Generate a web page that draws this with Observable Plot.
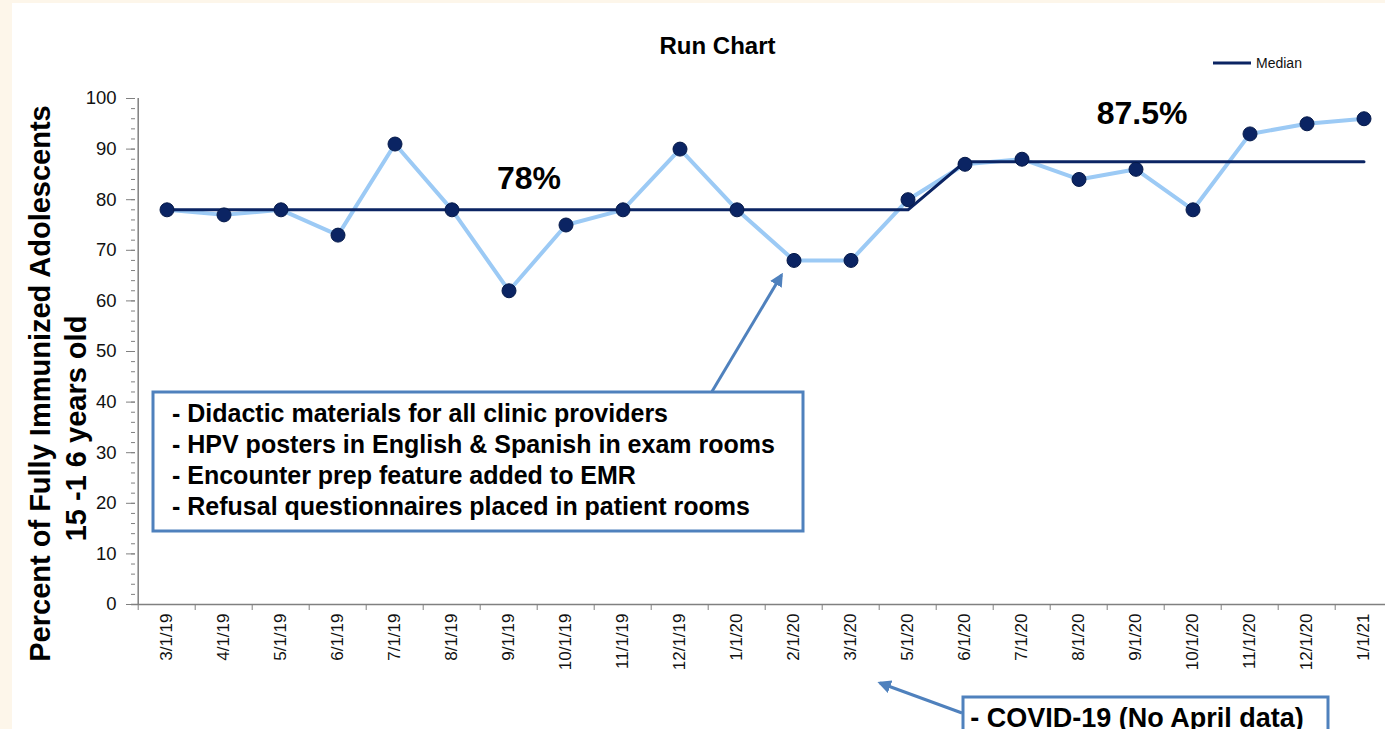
<!DOCTYPE html>
<html>
<head>
<meta charset="utf-8">
<script src="https://cdn.jsdelivr.net/npm/d3@7"></script>
<script src="https://cdn.jsdelivr.net/npm/@observablehq/plot@0.6"></script>
<style>
  html, body { margin: 0; padding: 0; background: #fdf6ea; overflow: hidden; }
  #chart { width: 1385px; height: 729px; }
</style>
</head>
<body>
<div id="chart"></div>
<script>
// ---- data ----
const months = ["3/1/19","4/1/19","5/1/19","6/1/19","7/1/19","8/1/19","9/1/19","10/1/19","11/1/19","12/1/19","1/1/20","2/1/20","3/1/20","5/1/20","6/1/20","7/1/20","8/1/20","9/1/20","10/1/20","11/1/20","12/1/20","1/1/21"];
const percentImmunized = [78,77,78,73,91,78,62,75,78,90,78,68,68,80,87,88,84,86,78,93,95,96];
const medianValues = [78,78,78,78,78,78,78,78,78,78,78,78,78,78,87.5,87.5,87.5,87.5,87.5,87.5,87.5,87.5];
const yMajorTicks = [0,10,20,30,40,50,60,70,80,90,100];
const yMinorTicks = [0,2,4,6,8,10,12,14,16,18,20,22,24,26,28,30,32,34,36,38,40,42,44,46,48,50,52,54,56,58,60,62,64,66,68,70,72,74,76,78,80,82,84,86,88,90,92,94,96,98,100];
const medianLabels = [
  {month: "9/1/19", median: 78, label: "78%", dx: 20, dy: -31},
  {month: "9/1/20", median: 87.5, label: "87.5%", dx: 6, dy: -48}
];
const chartTitle = "Run Chart";
const yTitleLines = ["Percent of Fully Immunized Adolescents", "15 -1 6 years old"];
const legendLabel = "Median";
const interventions = [
  "- Didactic materials for all clinic providers",
  "- HPV posters in English & Spanish in exam rooms",
  "- Encounter prep feature added to EMR",
  "- Refusal questionnaires placed in patient rooms"
];
const covidNote = "- COVID-19 (No April data)";

// ---- styles ----
const FONT = "'Liberation Sans', Arial, Helvetica, sans-serif";
const NAVY = "#0b2463";
const LIGHT = "#9ccaf5";
const BOXBLUE = "#4f81bd";
const AXIS = "#808080";
const X0 = 131.2, X1 = 1398.4;
const BW = (X1 - X0) / months.length;

const rows = months.map((m, i) => ({month: m, value: percentImmunized[i], median: medianValues[i]}));

const plot = Plot.plot({
  width: 1385,
  height: 729,
  marginTop: 98,
  marginBottom: 125,
  marginLeft: 131,
  marginRight: 0,
  style: {background: "transparent", fontFamily: FONT, color: "#111", overflow: "visible"},
  x: {type: "band", domain: months, range: [X0, X1], padding: 0, label: null},
  y: {domain: [0, 100], label: null},
  marks: [
    // axes
    Plot.ruleX([months[0]], {dx: -BW / 2, stroke: AXIS, strokeWidth: 1.5}),
    Plot.ruleY([0], {stroke: AXIS, strokeWidth: 1.5}),
    Plot.axisY(yMinorTicks, {tickSize: 4, dx: 4, fill: "none", stroke: AXIS}),
    Plot.axisY(yMajorTicks, {tickSize: 9, dx: 4, fill: "none", stroke: AXIS}),
    Plot.axisY(yMajorTicks, {tickSize: 0, tickPadding: 15, fontSize: 18.5, fill: "#111"}),
    Plot.axisX(months, {tickSize: 6, dx: -BW / 2, fill: "none", stroke: AXIS}),
    Plot.axisX(months, {tickSize: 0, tickPadding: 9, tickRotate: -90, fontSize: 17, fill: "#111"}),
    // series
    Plot.lineY(rows, {x: "month", y: "value", stroke: LIGHT, strokeWidth: 4}),
    Plot.lineY(rows, {x: "month", y: "median", stroke: NAVY, strokeWidth: 3}),
    Plot.dot(rows, {x: "month", y: "value", r: 7, fill: NAVY, stroke: "#061a4a", strokeWidth: 1}),
    // median labels
    ...medianLabels.map(d => Plot.text([d], {x: "month", y: "median", text: "label", dx: d.dx, dy: d.dy, fontSize: 32, fontWeight: "bold", fill: "#000"})),
    // title
    Plot.text([chartTitle], {frameAnchor: "top", lineAnchor: "middle", dx: -41, dy: -52, fontSize: 24, fontWeight: "bold", fill: "#000"}),
    // y titles
    Plot.text([yTitleLines[0]], {frameAnchor: "left", textAnchor: "middle", lineAnchor: "middle", dx: -91, dy: 32, rotate: -90, fontSize: 29, fontWeight: "bold", fill: "#000"}),
    Plot.text([yTitleLines[1]], {frameAnchor: "left", textAnchor: "middle", lineAnchor: "middle", dx: -55, dy: 77, rotate: -90, fontSize: 29, fontWeight: "bold", fill: "#000"})
  ]
});

document.getElementById("chart").appendChild(plot);

// ---- annotations ----
const svg = d3.select(plot);
svg.insert("rect", ":first-child").attr("x", 12).attr("y", 3).attr("width", 1385).attr("height", 729).attr("fill", "#ffffff");

const defs = svg.append("defs");
defs.append("marker").attr("id", "ahead").attr("viewBox", "0 0 10 10").attr("refX", 8).attr("refY", 5)
  .attr("markerWidth", 4.5).attr("markerHeight", 4.5).attr("orient", "auto")
  .append("path").attr("d", "M0,0L10,5L0,10z").attr("fill", BOXBLUE);

const xs = plot.scale("x"), ys = plot.scale("y");
const cx = m => xs.apply(m) + xs.bandwidth / 2;

// legend
const lg = svg.append("g").attr("text-anchor", "start");
lg.append("line").attr("x1", 1213).attr("x2", 1251).attr("y1", 63).attr("y2", 63).attr("stroke", NAVY).attr("stroke-width", 3);
lg.append("text").attr("x", 1256).attr("y", 63).attr("dy", "0.35em").attr("font-family", FONT).attr("font-size", 14).attr("fill", "#111").text(legendLabel);

// arrow 1 (interventions -> Feb 2020)
svg.append("line").attr("x1", 712).attr("y1", ys.apply(42)).attr("x2", cx("2/1/20") - 12).attr("y2", ys.apply(65))
  .attr("stroke", BOXBLUE).attr("stroke-width", 3).attr("marker-end", "url(#ahead)");
// box 1
const b1 = svg.append("g").attr("text-anchor", "start");
b1.append("rect").attr("x", 153).attr("y", 392).attr("width", 650).attr("height", 139).attr("fill", "#fff").attr("stroke", BOXBLUE).attr("stroke-width", 3);
interventions.forEach((t, i) => {
  b1.append("text").attr("x", 172).attr("y", 422 + i * 31).attr("text-anchor", "start").attr("font-family", FONT).attr("font-size", 25).attr("font-weight", "bold").attr("fill", "#000").text(t);
});

// arrow 2 (COVID -> April gap)
svg.append("line").attr("x1", 962).attr("y1", 713).attr("x2", 880).attr("y2", 683)
  .attr("stroke", BOXBLUE).attr("stroke-width", 3).attr("marker-end", "url(#ahead)");
const b2 = svg.append("g");
b2.append("rect").attr("x", 963).attr("y", 697).attr("width", 365).attr("height", 60).attr("fill", "#fff").attr("stroke", BOXBLUE).attr("stroke-width", 3);
b2.append("text").attr("x", 1137).attr("y", 727).attr("text-anchor", "middle").attr("font-family", FONT).attr("font-size", 27).attr("font-weight", "bold").attr("fill", "#000").text(covidNote);
</script>
</body>
</html>
